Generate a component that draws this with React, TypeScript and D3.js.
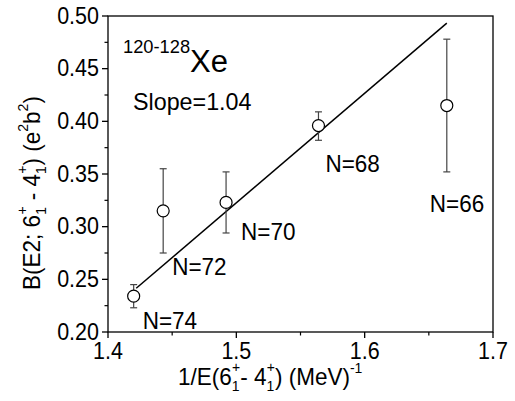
import React from 'react';
import * as d3 from 'd3';

// data
const isotopes = ['N=74', 'N=72', 'N=70', 'N=68', 'N=66'];
const invEnergy = [1.420, 1.443, 1.492, 1.564, 1.664];
const bE2 = [0.234, 0.315, 0.323, 0.396, 0.415];
const errLow = [0.223, 0.275, 0.294, 0.382, 0.352];
const errHigh = [0.245, 0.355, 0.352, 0.409, 0.478];
const fitX = [1.422, 1.664];
const fitY = [0.2415, 0.4932];
const xTicks = [1.4, 1.5, 1.6, 1.7];
const yTicks = [0.2, 0.25, 0.3, 0.35, 0.4, 0.45, 0.5];

// label offsets relative to their points (px)
const labelPos = [
  [9, 33], [9, 64], [15, 38], [7, 46], [-17, 106],
];

const W = 515, H = 401;
const left = 108, right = 493, top = 16, bottom = 332;
const font = 'Arial, "Liberation Sans", sans-serif';

// text in the original is a little taller than it is wide
function T({ x, y, sy = 1.12, children, ...rest }: any) {
  return (
    <text transform={`translate(${x},${y}) scale(1,${sy})`} {...rest}>{children}</text>
  );
}

export default function App() {
  const x = d3.scaleLinear().domain([1.4, 1.7]).range([left, right]);
  const y = d3.scaleLinear().domain([0.2, 0.5]).range([bottom, top]);
  const xMinor = d3.range(1.45, 1.7, 0.1);
  const yMinor = d3.range(0.225, 0.5, 0.05);
  const line = d3.line<number>().x((d, i) => x(fitX[i])).y((d, i) => y(fitY[i]));

  return (
    <svg width={W} height={H} style={{ position: 'absolute', left: 0, top: 0, background: '#fff' }} fontFamily={font}>
      <rect x={left} y={top} width={right - left} height={bottom - top} fill="none" stroke="#000" strokeWidth={1.3} />
      {/* y axis ticks */}
      {yTicks.map(t => (
        <g key={'y' + t}>
          <line x1={left - 6} x2={left} y1={y(t)} y2={y(t)} stroke="#000" strokeWidth={1.3} />
          <T x={left - 9} y={y(t) + 7.8} textAnchor="end" fontSize={21.5} sy={1.14}>{t.toFixed(2)}</T>
        </g>
      ))}
      {yMinor.map(t => (
        <line key={'ym' + t} x1={left - 3.5} x2={left} y1={y(t)} y2={y(t)} stroke="#000" strokeWidth={1.2} />
      ))}
      {/* x axis ticks */}
      {xTicks.map(t => (
        <g key={'x' + t}>
          <line x1={x(t)} x2={x(t)} y1={bottom} y2={bottom + 6} stroke="#000" strokeWidth={1.3} />
          <T x={x(t)} y={bottom + 27} textAnchor="middle" fontSize={21.5} sy={1.14}>{t.toFixed(1)}</T>
        </g>
      ))}
      {xMinor.map(t => (
        <line key={'xm' + t} x1={x(t)} x2={x(t)} y1={bottom} y2={bottom + 3.5} stroke="#000" strokeWidth={1.2} />
      ))}

      {/* fit line */}
      <path d={line(fitX) || ''} fill="none" stroke="#000" strokeWidth={1.5} />

      {/* error bars and points */}
      {invEnergy.map((v, i) => (
        <g key={'p' + i}>
          <line x1={x(v)} x2={x(v)} y1={y(errLow[i])} y2={y(errHigh[i])} stroke="#444" strokeWidth={1.2} />
          <line x1={x(v) - 3.5} x2={x(v) + 3.5} y1={y(errLow[i])} y2={y(errLow[i])} stroke="#444" strokeWidth={1.2} />
          <line x1={x(v) - 3.5} x2={x(v) + 3.5} y1={y(errHigh[i])} y2={y(errHigh[i])} stroke="#444" strokeWidth={1.2} />
          <circle cx={x(v)} cy={y(bE2[i])} r={6} fill="#fff" stroke="#000" strokeWidth={1.2} />
          <T x={x(v) + labelPos[i][0]} y={y(bE2[i]) + labelPos[i][1]} fontSize={22.5} sy={1.1}>{isotopes[i]}</T>
        </g>
      ))}

      {/* annotations */}
      <text x={123} y={72}>
        <tspan fontSize={18.3} dy={-19}>120-128</tspan>
        <tspan fontSize={31} dy={19}>Xe</tspan>
      </text>
      <T x={133} y={110} fontSize={23.3} sy={1.06}>Slope=1.04</T>

      {/* x axis title */}
      <T x={178} y={385} fontSize={22.5} sy={1.08}>
        1/E(6<tspan fontSize={14} dy={6}>1</tspan>
        <tspan fontSize={14} dx={-7.5} dy={-18}>+</tspan>
        <tspan dy={12}>- 4</tspan>
        <tspan fontSize={14} dy={6}>1</tspan>
        <tspan fontSize={14} dx={-7.5} dy={-18}>+</tspan>
        <tspan dy={12}>) (MeV)</tspan>
        <tspan fontSize={14} dy={-11}>-1</tspan>
      </T>

      {/* y axis title */}
      <text transform="translate(40,193) rotate(-90) scale(1,1.08)" textAnchor="middle" fontSize={22.5}>
        B(E2; 6<tspan fontSize={14} dy={6}>1</tspan>
        <tspan fontSize={14} dx={-7.5} dy={-18}>+</tspan>
        <tspan dy={12}> - 4</tspan>
        <tspan fontSize={14} dy={6}>1</tspan>
        <tspan fontSize={14} dx={-7.5} dy={-18}>+</tspan>
        <tspan dy={12}>) (e</tspan>
        <tspan fontSize={14} dy={-11}>2</tspan>
        <tspan dy={11}>b</tspan>
        <tspan fontSize={14} dy={-11}>2</tspan>
        <tspan dy={11}>)</tspan>
      </text>
    </svg>
  );
}
